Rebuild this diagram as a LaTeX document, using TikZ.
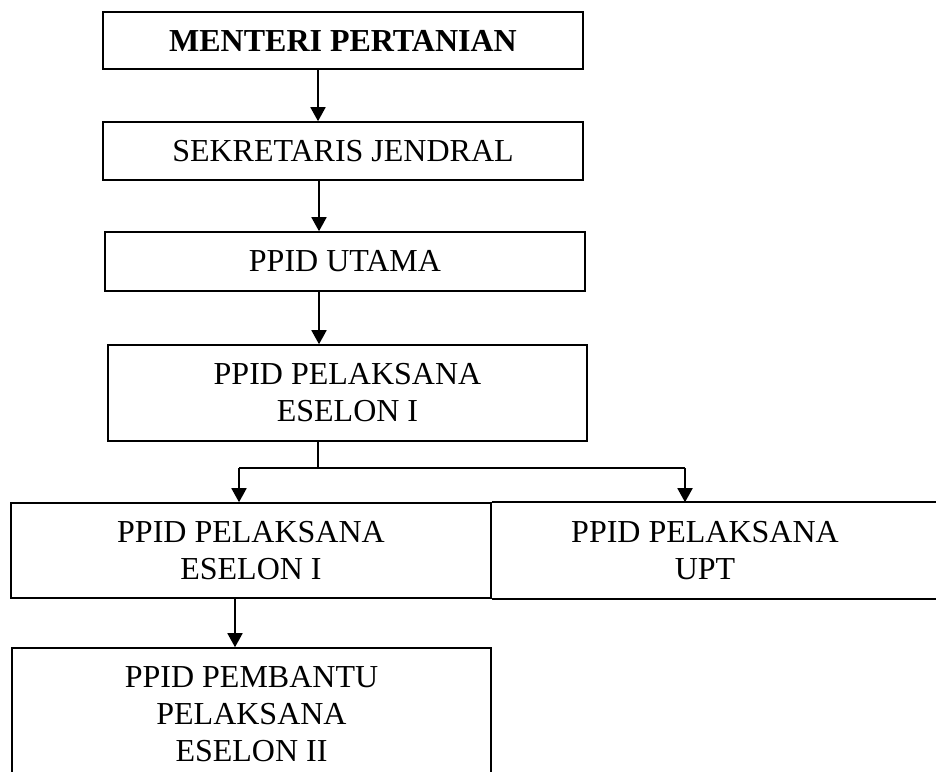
\documentclass[tikz,border=0pt]{standalone}
\usepackage{fontspec}
\setmainfont{Liberation Serif}
\usetikzlibrary{arrows.meta}

\begin{document}
\begin{tikzpicture}[x=1pt,y=1pt,
  unit/.style={draw,line width=1.6pt,minimum width=480pt,minimum height=#1,inner sep=0pt,align=center,font=\fontsize{32}{37}\selectfont},
  unit/.default=58pt,
  arrow/.style={line width=1.8pt,-{Triangle[width=15pt,length=14pt]}},
  link/.style={line width=1.2pt}]
\useasboundingbox (0,0) rectangle (936,-771);
\clip (0,0) rectangle (936,-771);
\node [unit=57pt] (menteri) at (343,-40.5) {\textbf{MENTERI PERTANIAN}};
\node [unit=58pt] (sekjen) at (343,-151) {SEKRETARIS JENDRAL};
\node [unit=59pt] (utama) at (345,-261.5) {PPID UTAMA};
\node [unit=96pt, minimum width=479pt] (eselon) at (347.5,-393) {PPID PELAKSANA\\ESELON I};
\node [unit=95pt] (left) at (251,-550.5) {PPID PELAKSANA\\ESELON I};
\node [unit=95pt, draw=none, minimum width=0pt] (upt) at (705,-550.5) {PPID PELAKSANA\\UPT};
\node [unit=133pt, minimum width=479pt] (pembantu) at (251.5,-714.5) {PPID PEMBANTU\\PELAKSANA\\ESELON II};
\draw [line width=1.6pt] (left.north east) -- ++(470,0);
\draw [line width=1.6pt] (left.south east) -- ++(470,0);
\coordinate (fork) at (318,-468);
\coordinate (forkL) at (239,-468);
\coordinate (forkR) at (685,-468);
\draw [arrow] ([xshift=-25pt]menteri.south) -- ([xshift=-25pt]menteri.south |- sekjen.north);
\draw [arrow] ([xshift=-24pt]sekjen.south) -- ([xshift=-24pt]sekjen.south |- utama.north);
\draw [arrow] ([xshift=-26pt]utama.south) -- ([xshift=-26pt]utama.south |- eselon.north);
\draw [link] (fork |- eselon.south) -- (fork);
\draw [link] (forkL) -- (forkR);
\draw [arrow] (forkL) -- (forkL |- left.north);
\draw [arrow] (forkR) -- (forkR |- left.north);
\draw [arrow] ([xshift=-16pt]left.south) -- ([xshift=-16pt]left.south |- pembantu.north);
\end{tikzpicture}
\end{document}
